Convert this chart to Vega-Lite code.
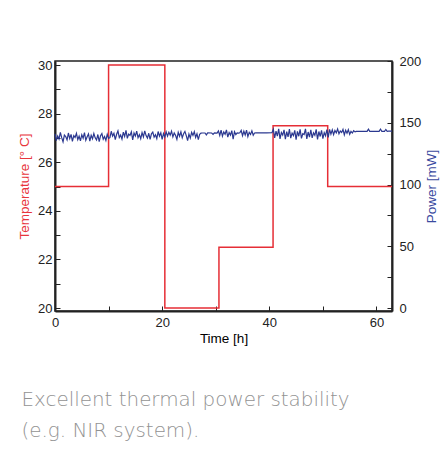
{
  "$schema": "https://vega.github.io/schema/vega-lite/v6.json",
  "width": 337,
  "height": 250,
  "autosize": {"type": "none"},
  "padding": {"left": 55, "top": 61, "right": 51, "bottom": 155},
  "background": "white",
  "config": {
    "view": {"stroke": "#222222", "strokeWidth": 1.5},
    "font": "Liberation Sans",
    "axis": {
      "grid": false,
      "domainColor": "#222222",
      "domainWidth": 2,
      "tickColor": "#222222",
      "tickWidth": 1,
      "tickSize": -5,
      "labelColor": "#222222",
      "labelFontSize": 13,
      "titleFontSize": 13.5,
      "titleFontWeight": "normal",
      "labelFont": "Liberation Sans",
      "titleFont": "Liberation Sans"
    }
  },
  "title": {
    "text": ["Excellent thermal power stability", "(e.g. NIR system)."],
    "orient": "bottom",
    "anchor": "start",
    "frame": "bounds",
    "font": "DejaVu Sans",
    "fontSize": 19.9,
    "fontWeight": 200,
    "color": "#929292",
    "lineHeight": 31,
    "baseline": "alphabetic",
    "offset": 61,
    "dx": 4
  },
  "datasets": {
    "temperature": [
      {"t": 0, "temp": 25},
      {"t": 10, "temp": 30},
      {"t": 20.5, "temp": 20},
      {"t": 30.6, "temp": 22.5},
      {"t": 40.7, "temp": 27.5},
      {"t": 50.9, "temp": 25},
      {"t": 62.9, "temp": 25}
    ],
    "power": [
      {"t": 0, "p": 141.0}, {"t": 0.25, "p": 135.6}, {"t": 0.5, "p": 139.3}, {"t": 0.75, "p": 136.8},
      {"t": 1, "p": 142.3}, {"t": 1.25, "p": 137.9}, {"t": 1.5, "p": 134.6}, {"t": 1.75, "p": 140.0},
      {"t": 2, "p": 138.8}, {"t": 2.25, "p": 136.1}, {"t": 2.5, "p": 141.7}, {"t": 2.75, "p": 137.2},
      {"t": 3, "p": 140.6}, {"t": 3.25, "p": 135.0}, {"t": 3.5, "p": 139.6}, {"t": 3.75, "p": 138.1},
      {"t": 4, "p": 141.4}, {"t": 4.25, "p": 136.3}, {"t": 4.5, "p": 139.1}, {"t": 4.75, "p": 135.4},
      {"t": 5, "p": 140.3}, {"t": 5.25, "p": 137.5}, {"t": 5.5, "p": 142.1}, {"t": 5.75, "p": 135.8},
      {"t": 6, "p": 138.6}, {"t": 6.25, "p": 140.9}, {"t": 6.5, "p": 135.1}, {"t": 6.75, "p": 139.8},
      {"t": 7, "p": 137.0}, {"t": 7.25, "p": 141.3}, {"t": 7.5, "p": 137.8}, {"t": 7.75, "p": 136.0},
      {"t": 8, "p": 140.5}, {"t": 8.25, "p": 134.7}, {"t": 8.5, "p": 139.5}, {"t": 8.75, "p": 141.2},
      {"t": 9, "p": 136.7}, {"t": 9.25, "p": 138.9}, {"t": 9.5, "p": 135.7}, {"t": 9.75, "p": 140.7},
      {"t": 10, "p": 137.4},
      {"t": 10.25, "p": 137.9}, {"t": 10.5, "p": 143.1}, {"t": 10.75, "p": 139.2}, {"t": 11, "p": 141.4},
      {"t": 11.25, "p": 136.4}, {"t": 11.5, "p": 140.7}, {"t": 11.75, "p": 143.4}, {"t": 12, "p": 138.0},
      {"t": 12.25, "p": 140.0}, {"t": 12.5, "p": 136.8}, {"t": 12.75, "p": 142.4}, {"t": 13, "p": 138.9},
      {"t": 13.25, "p": 143.9}, {"t": 13.5, "p": 137.3}, {"t": 13.75, "p": 140.8}, {"t": 14, "p": 139.7},
      {"t": 14.25, "p": 142.7}, {"t": 14.5, "p": 136.2}, {"t": 14.75, "p": 141.7}, {"t": 15, "p": 139.3},
      {"t": 15.25, "p": 143.2}, {"t": 15.5, "p": 137.8}, {"t": 15.75, "p": 140.4}, {"t": 16, "p": 137.1},
      {"t": 16.25, "p": 142.1}, {"t": 16.5, "p": 138.6}, {"t": 16.75, "p": 143.5}, {"t": 17, "p": 139.6},
      {"t": 17.25, "p": 137.5}, {"t": 17.5, "p": 141.5}, {"t": 17.75, "p": 136.6}, {"t": 18, "p": 141.0},
      {"t": 18.25, "p": 142.5}, {"t": 18.5, "p": 138.3}, {"t": 18.75, "p": 140.3}, {"t": 19, "p": 137.2},
      {"t": 19.25, "p": 142.9}, {"t": 19.5, "p": 139.2}, {"t": 19.75, "p": 141.8}, {"t": 20, "p": 136.5},
      {"t": 20.25, "p": 141.3}, {"t": 20.5, "p": 138.5},
      {"t": 20.75, "p": 142.6}, {"t": 21, "p": 139.2}, {"t": 21.25, "p": 142.3}, {"t": 21.5, "p": 140.0},
      {"t": 21.75, "p": 143.2}, {"t": 22, "p": 138.6}, {"t": 22.25, "p": 141.7}, {"t": 22.5, "p": 139.8},
      {"t": 22.75, "p": 136.5}, {"t": 23, "p": 142.2}, {"t": 23.25, "p": 139.1}, {"t": 23.5, "p": 142.7},
      {"t": 23.75, "p": 137.8}, {"t": 24, "p": 141.1}, {"t": 24.25, "p": 143.0}, {"t": 24.5, "p": 139.6},
      {"t": 24.75, "p": 135.6}, {"t": 25, "p": 140.8}, {"t": 25.25, "p": 137.6}, {"t": 25.5, "p": 142.2},
      {"t": 25.75, "p": 139.8}, {"t": 26, "p": 142.8}, {"t": 26.25, "p": 138.2}, {"t": 26.5, "p": 141.1},
      {"t": 26.75, "p": 136.4}, {"t": 27, "p": 140.6}, {"t": 27.25, "p": 141.6},
      {"t": 27.5, "p": 141.7}, {"t": 28, "p": 141.7}, {"t": 28.25, "p": 140.2}, {"t": 28.5, "p": 141.8},
      {"t": 29.25, "p": 141.7}, {"t": 29.5, "p": 140.6}, {"t": 29.75, "p": 141.8}, {"t": 30.25, "p": 141.7},
      {"t": 30.5, "p": 143.4}, {"t": 30.75, "p": 139.7}, {"t": 31, "p": 144.0}, {"t": 31.25, "p": 139.1},
      {"t": 31.5, "p": 142.6}, {"t": 31.75, "p": 140.7}, {"t": 32, "p": 144.2}, {"t": 32.25, "p": 138.3},
      {"t": 32.5, "p": 142.1}, {"t": 32.75, "p": 140.0}, {"t": 33, "p": 143.6}, {"t": 33.25, "p": 136.8},
      {"t": 33.5, "p": 142.8}, {"t": 33.75, "p": 140.4}, {"t": 34, "p": 141.8}, {"t": 34.25, "p": 141.6},
      {"t": 34.5, "p": 141.9}, {"t": 34.75, "p": 143.8}, {"t": 35, "p": 139.5}, {"t": 35.25, "p": 143.1},
      {"t": 35.5, "p": 140.1}, {"t": 35.75, "p": 144.1}, {"t": 36, "p": 138.8}, {"t": 36.25, "p": 142.2},
      {"t": 36.5, "p": 140.5}, {"t": 36.75, "p": 143.5}, {"t": 37, "p": 139.9}, {"t": 37.25, "p": 141.7},
      {"t": 37.5, "p": 141.8}, {"t": 38.5, "p": 141.9}, {"t": 39.5, "p": 141.8}, {"t": 40.5, "p": 141.9},
      {"t": 40.75, "p": 144.7}, {"t": 41, "p": 137.8}, {"t": 41.25, "p": 143.3}, {"t": 41.5, "p": 139.2},
      {"t": 41.75, "p": 145.1}, {"t": 42, "p": 137.0}, {"t": 42.25, "p": 142.1}, {"t": 42.5, "p": 140.0},
      {"t": 42.75, "p": 144.3}, {"t": 43, "p": 136.8}, {"t": 43.25, "p": 142.8}, {"t": 43.5, "p": 138.6},
      {"t": 43.75, "p": 144.8}, {"t": 44, "p": 137.6}, {"t": 44.25, "p": 141.6}, {"t": 44.5, "p": 139.6},
      {"t": 44.75, "p": 143.9}, {"t": 45, "p": 136.4}, {"t": 45.25, "p": 143.0}, {"t": 45.5, "p": 139.1},
      {"t": 45.75, "p": 144.6}, {"t": 46, "p": 137.3}, {"t": 46.25, "p": 141.1}, {"t": 46.5, "p": 140.5},
      {"t": 46.75, "p": 145.0}, {"t": 47, "p": 136.9}, {"t": 47.25, "p": 142.5}, {"t": 47.5, "p": 138.3},
      {"t": 47.75, "p": 144.2}, {"t": 48, "p": 137.7}, {"t": 48.25, "p": 141.9}, {"t": 48.5, "p": 139.9},
      {"t": 48.75, "p": 144.7}, {"t": 49, "p": 136.5}, {"t": 49.25, "p": 142.9}, {"t": 49.5, "p": 138.9},
      {"t": 49.75, "p": 143.8}, {"t": 50, "p": 137.2}, {"t": 50.25, "p": 142.0}, {"t": 50.5, "p": 139.5},
      {"t": 50.75, "p": 144.5}, {"t": 51, "p": 138.1},
      {"t": 51.25, "p": 144.7}, {"t": 51.5, "p": 140.8}, {"t": 51.75, "p": 144.2}, {"t": 52, "p": 140.3},
      {"t": 52.25, "p": 143.8}, {"t": 52.5, "p": 141.9}, {"t": 52.75, "p": 145.0}, {"t": 53, "p": 141.0},
      {"t": 53.25, "p": 143.3}, {"t": 53.5, "p": 142.2}, {"t": 53.75, "p": 144.6}, {"t": 54, "p": 140.1},
      {"t": 54.25, "p": 143.9}, {"t": 54.5, "p": 141.5}, {"t": 54.75, "p": 144.4}, {"t": 55, "p": 140.6},
      {"t": 55.25, "p": 143.0}, {"t": 55.5, "p": 141.7}, {"t": 55.75, "p": 143.6}, {"t": 56, "p": 142.6},
      {"t": 56.25, "p": 143.0}, {"t": 58.25, "p": 143.0}, {"t": 58.5, "p": 144.8}, {"t": 58.75, "p": 143.0},
      {"t": 60.5, "p": 143.1}, {"t": 60.75, "p": 144.9}, {"t": 61, "p": 143.1}, {"t": 61.5, "p": 143.1},
      {"t": 61.75, "p": 144.6}, {"t": 62, "p": 143.1}, {"t": 62.25, "p": 143.2}, {"t": 62.9, "p": 143.2}
    ]
  },
  "encoding": {
    "x": {
      "field": "t",
      "type": "quantitative",
      "scale": {"domain": [0, 62.9], "nice": false, "zero": false},
      "axis": {
        "title": "Time [h]",
        "values": [0, 10, 20, 30, 40, 50, 60],
        "labelExpr": "datum.value % 20 == 0 ? datum.label : ''",
        "labelPadding": 10,
        "titlePadding": 2,
        "labelFlush": false
      }
    }
  },
  "layer": [
    {
      "data": {"name": "temperature"},
      "mark": {"type": "line", "interpolate": "step-after", "color": "#e62e36", "strokeWidth": 1.5},
      "encoding": {
        "y": {
          "field": "temp",
          "type": "quantitative",
          "scale": {"domain": [19.877, 30.165], "nice": false, "zero": false},
          "axis": {
            "orient": "left",
            "title": "Temperature [° C]",
            "titleColor": "#e8353c",
            "values": [20, 21, 22, 23, 24, 25, 26, 27, 28, 29, 30],
            "labelExpr": "datum.value % 2 == 0 ? datum.label : ''",
            "labelPadding": 8,
            "titlePadding": 6,
            "labelFlush": false
          }
        }
      }
    },
    {
      "data": {"name": "power"},
      "mark": {"type": "line", "color": "#2b3890", "strokeWidth": 1.2},
      "encoding": {
        "y": {
          "field": "p",
          "type": "quantitative",
          "scale": {"domain": [-2.4, 200], "nice": false, "zero": false},
          "axis": {
            "orient": "right",
            "title": "Power [mW]",
            "titleColor": "#3a4aa0",
            "titleAngle": 270,
            "titleBaseline": "top",
            "values": [0, 25, 50, 75, 100, 125, 150, 175, 200],
            "labelExpr": "datum.value % 50 == 0 ? datum.label : ''",
            "labelPadding": 12,
            "titlePadding": 4,
            "labelFlush": false
          }
        }
      }
    }
  ],
  "resolve": {"scale": {"y": "independent"}}
}
